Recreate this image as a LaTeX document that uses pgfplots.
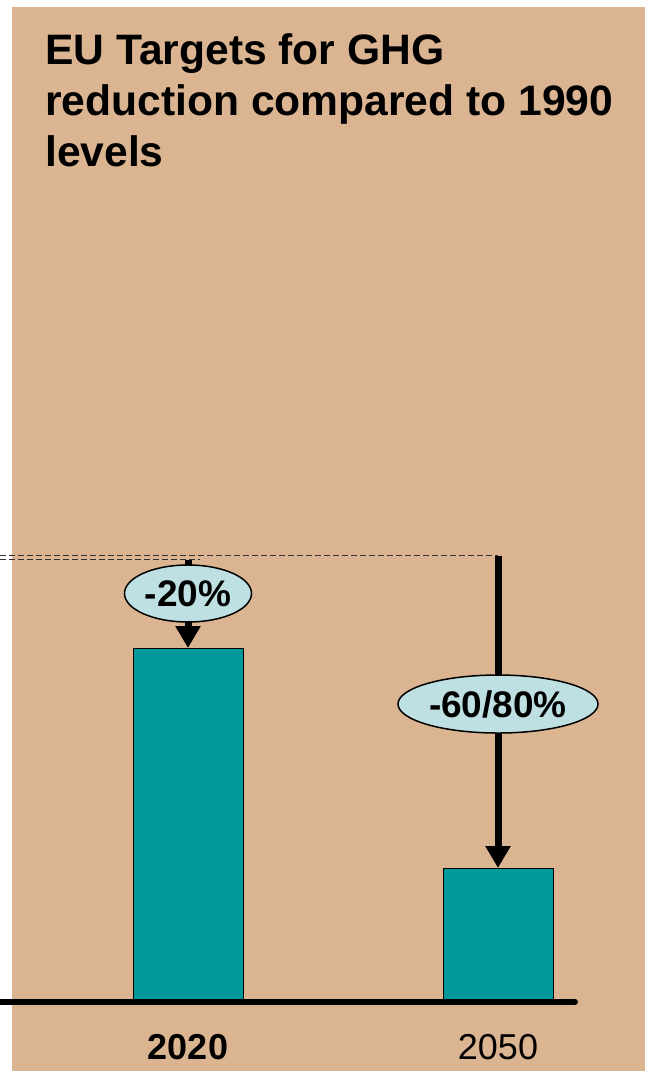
\documentclass[border=0pt]{standalone}
\usepackage{pgfplots}
\pgfplotsset{compat=1.18}
\usepackage{fontspec}
\setmainfont{Liberation Sans}
\usetikzlibrary{arrows.meta,shapes.geometric}
\definecolor{bgtan}{HTML}{DBB592}
\definecolor{barteal}{HTML}{009999}
\definecolor{bubble}{HTML}{BEE0E3}
\begin{document}
\begin{tikzpicture}[x=1pt,y=1pt]
\useasboundingbox (0,0) rectangle (645,1071);
\fill[white] (0,0) rectangle (645,1071);
\fill[bgtan] (12,0) rectangle (645,1064);
\node[anchor=north west, align=left, inner sep=0pt,
  font=\bfseries\fontsize{42.6}{51}\selectfont] at (45,1038)
  {EU Targets for GHG\\reduction compared to 1990\\levels};
\begin{axis}[
  at={(0,0)}, anchor=south west,
  scale only axis, width=645pt, height=1071pt,
  xmin=0, xmax=645, ymin=-16.136, ymax=227.273,
  axis line style={draw=none}, major tick length=0pt,
  ytick=\empty, xtick={188,498}, xticklabels={\textbf{2020},2050},
  xticklabel style={anchor=base, yshift=11pt, inner sep=0pt,
    font=\fontsize{36}{42}\selectfont},
  clip=false,
  ybar, bar width=110pt, bar shift=0pt,
]
\draw[black!80, line width=1pt, dash pattern=on 6pt off 3pt] (axis cs:0,100.98) -- (axis cs:498,100.98);
\draw[black!80, line width=1pt, dash pattern=on 6pt off 3pt] (axis cs:0,100.07) -- (axis cs:200,100.07);
\addplot[fill=barteal, draw=black, line width=1pt] coordinates {(188,80) (498,30)};
\draw[black, line width=6pt, line cap=butt] (axis cs:0,-0.45) -- (axis cs:575,-0.45);
\fill[black] (axis cs:575,-0.45) circle (3pt);
\draw[black, line width=7pt, -{Triangle[width=24pt,length=22pt]}] (axis cs:188,100.07) -- (axis cs:188,80);
\draw[black, line width=7pt, -{Triangle[width=24pt,length=22pt]}] (axis cs:498,100.98) -- (axis cs:498,30);
\node[ellipse, draw=black, line width=1.5pt, fill=bubble, minimum width=127pt, minimum height=57pt, inner sep=0pt,
  font=\bfseries\fontsize{37}{42}\selectfont] at (axis cs:188,92.39) {-20\%};
\node[ellipse, draw=black, line width=1.5pt, fill=bubble, minimum width=200pt, minimum height=58pt, inner sep=0pt,
  font=\bfseries\fontsize{37}{42}\selectfont] at (axis cs:498,67.27) {-60/80\%};
\end{axis}
\end{tikzpicture}
\end{document}
